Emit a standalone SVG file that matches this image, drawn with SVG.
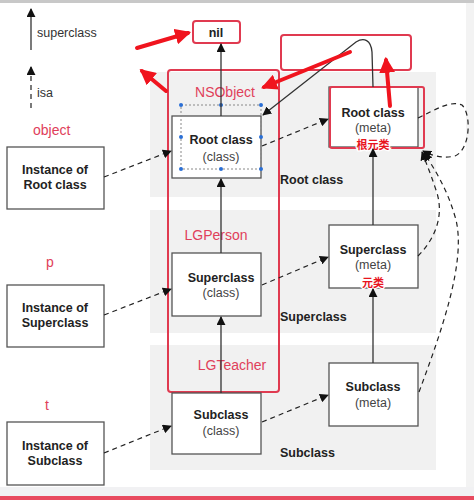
<svg xmlns="http://www.w3.org/2000/svg" width="474" height="500" viewBox="0 0 474 500">
<defs>
<style>
text{font-family:"Liberation Sans",Arial,sans-serif}
.box{fill:#fff;stroke:#555;stroke-width:1.3}
.b{font-size:12.5px;font-weight:bold;fill:#222;text-anchor:middle}
.r{font-size:12.5px;fill:#444;text-anchor:middle}
.lbl{font-size:12.5px;font-weight:bold;fill:#222}
.red{font-size:14px;fill:#e0405a}
.band{fill:#f1f1f1}
.sup{stroke:#333;stroke-width:1.3;fill:none}
.isa{stroke:#222;stroke-width:1.2;fill:none;stroke-dasharray:5 4}
.hl{fill:none;stroke:#e03a50;stroke-width:2}
.ann{stroke:#f0141e;stroke-width:4;fill:none;stroke-linecap:round}
.cn{font-family:"Liberation Sans","Noto Sans CJK SC",sans-serif;font-size:11px;font-weight:bold;fill:#e8141e;text-anchor:middle;stroke:#fff;stroke-width:2.5;paint-order:stroke}
.sel{fill:none;stroke:#888;stroke-width:1;stroke-dasharray:2 2}
.dot{fill:#2a6fd6}
</style>
<marker id="ah" viewBox="0 0 10 10" refX="9" refY="5" markerWidth="9" markerHeight="9" markerUnits="userSpaceOnUse" orient="auto"><path d="M0,0 L10,5 L0,10 z" fill="#111"/></marker>
<marker id="rah" viewBox="0 0 10 10" refX="8" refY="5" markerWidth="16" markerHeight="16" markerUnits="userSpaceOnUse" orient="auto"><path d="M0,0 L10,5 L0,10 z" fill="#f0141e"/></marker>
</defs>
<rect width="474" height="500" fill="#fff"/>
<rect x="0" y="0" width="474" height="3" fill="#c8c8c8"/>
<rect x="466" y="3" width="8" height="493" fill="#f3f3f3"/>
<rect x="0" y="487" width="474" height="9" fill="#f1f1f3"/>
<rect x="0" y="496" width="474" height="4" fill="#e84a5f"/>

<g id="bands">
<rect class="band" x="150" y="72" width="286" height="125"/>
<rect class="band" x="150" y="210" width="286" height="123"/>
<rect class="band" x="150" y="345" width="286" height="125"/>
<text class="lbl" x="280" y="184">Root class</text>
<text class="lbl" x="280" y="321">Superclass</text>
<text class="lbl" x="280" y="457">Subclass</text>
</g>

<g id="legend">
<line class="sup" x1="31" y1="50" x2="31" y2="9" marker-end="url(#ah)"/>
<text x="37" y="37" font-size="12.5" fill="#333">superclass</text>
<line class="isa" x1="31" y1="108" x2="31" y2="67" marker-end="url(#ah)"/>
<text x="37" y="97" font-size="12.5" fill="#333">isa</text>
</g>

<g id="labels">
<text class="red" x="33" y="135">object</text>
<text class="red" x="46" y="267">p</text>
<text class="red" x="45" y="410">t</text>
</g>

<g id="nsobject-frame">
<rect class="hl" x="168" y="70" width="111" height="322" rx="3"/>
<text class="red" x="225" y="97" text-anchor="middle">NSObject</text>
<text class="red" x="216" y="240" text-anchor="middle">LGPerson</text>
<text class="red" x="232" y="370" text-anchor="middle">LGTeacher</text>
</g>

<g id="nil">
<rect x="193" y="21" width="47" height="22" rx="3" fill="#fff" stroke="#e03a50" stroke-width="2"/>
<text class="b" x="216" y="37">nil</text>
</g>
<g id="empty-highlight">
<rect class="hl" x="281" y="35" width="130" height="35" rx="3"/>
</g>

<g id="inst-root">
<rect class="box" x="7" y="147" width="97" height="62"/>
<text class="b" x="55" y="174">Instance of</text>
<text class="b" x="55" y="189">Root class</text>
</g>
<g id="inst-super">
<rect class="box" x="7" y="285" width="97" height="62"/>
<text class="b" x="55" y="312">Instance of</text>
<text class="b" x="55" y="327">Superclass</text>
</g>
<g id="inst-sub">
<rect class="box" x="7" y="422" width="97" height="63"/>
<text class="b" x="55" y="450">Instance of</text>
<text class="b" x="55" y="465">Subclass</text>
</g>

<g id="root-class">
<rect class="box" x="172" y="116" width="89" height="62"/>
<text class="b" x="221" y="144">Root class</text>
<text class="r" x="221" y="161">(class)</text>
<rect class="sel" x="181" y="105" width="80" height="64"/>
<circle class="dot" cx="181" cy="105" r="2"/><circle class="dot" cx="221" cy="105" r="2"/><circle class="dot" cx="261" cy="105" r="2"/>
<circle class="dot" cx="181" cy="137" r="2"/><circle class="dot" cx="261" cy="137" r="2"/>
<circle class="dot" cx="181" cy="169" r="2"/><circle class="dot" cx="221" cy="169" r="2"/><circle class="dot" cx="261" cy="169" r="2"/>
</g>
<g id="super-class">
<rect class="box" x="172" y="253" width="89" height="63"/>
<text class="b" x="221" y="282">Superclass</text>
<text class="r" x="221" y="297">(class)</text>
</g>
<g id="sub-class">
<rect class="box" x="172" y="393" width="89" height="61"/>
<text class="b" x="221" y="419">Subclass</text>
<text class="r" x="221" y="435">(class)</text>
</g>

<g id="root-meta">
<rect class="box" x="329" y="87" width="89" height="60"/>
<rect class="hl" x="330" y="87" width="94" height="61" rx="2"/>
<text class="b" x="373" y="117">Root class</text>
<text class="r" x="373" y="132">(meta)</text>
<text class="cn" x="373" y="149">根元类</text>
</g>
<g id="super-meta">
<rect class="box" x="329" y="225" width="89" height="63"/>
<text class="b" x="373" y="254">Superclass</text>
<text class="r" x="373" y="269">(meta)</text>
<text class="cn" x="373" y="287">元类</text>
</g>
<g id="sub-meta">
<rect class="box" x="329" y="363" width="89" height="63"/>
<text class="b" x="373" y="391">Subclass</text>
<text class="r" x="373" y="407">(meta)</text>
</g>

<g id="connectors">
<line class="sup" x1="221" y1="116" x2="221" y2="44" marker-end="url(#ah)"/>
<line class="sup" x1="221" y1="253" x2="221" y2="179" marker-end="url(#ah)"/>
<line class="sup" x1="221" y1="393" x2="221" y2="317" marker-end="url(#ah)"/>
<line class="sup" x1="373" y1="225" x2="373" y2="149" marker-end="url(#ah)"/>
<line class="sup" x1="373" y1="363" x2="373" y2="289" marker-end="url(#ah)"/>
<path class="sup" d="M373,87 L372,52 C371,40 364,37 356,42 L263,115" marker-end="url(#ah)"/>
<line class="isa" x1="104" y1="177" x2="171" y2="151" marker-end="url(#ah)"/>
<line class="isa" x1="104" y1="315" x2="171" y2="289" marker-end="url(#ah)"/>
<line class="isa" x1="104" y1="453" x2="171" y2="426" marker-end="url(#ah)"/>
<line class="isa" x1="262" y1="146" x2="328" y2="119" marker-end="url(#ah)"/>
<line class="isa" x1="262" y1="285" x2="328" y2="257" marker-end="url(#ah)"/>
<line class="isa" x1="262" y1="422" x2="328" y2="395" marker-end="url(#ah)"/>
<path class="isa" d="M418,118 C435,110 450,100 462,105 C472,115 470,150 455,156 C442,159 430,155 423,151" marker-end="url(#ah)"/>
<path class="isa" d="M418,256 C432,242 446,218 436,190 C430,172 425,160 422,152" marker-end="url(#ah)"/>
<path class="isa" d="M419,392 C442,330 466,262 456,220 C448,190 434,168 424,153" marker-end="url(#ah)"/>
</g>

<g id="annotations">
<line class="ann" x1="137" y1="48" x2="188" y2="33" marker-end="url(#rah)"/>
<line class="ann" x1="166" y1="91" x2="142" y2="71" marker-end="url(#rah)"/>
<line class="ann" x1="350" y1="52" x2="264" y2="87" marker-end="url(#rah)"/>
<line class="ann" x1="390" y1="106" x2="386" y2="60" marker-end="url(#rah)"/>
</g>
</svg>
